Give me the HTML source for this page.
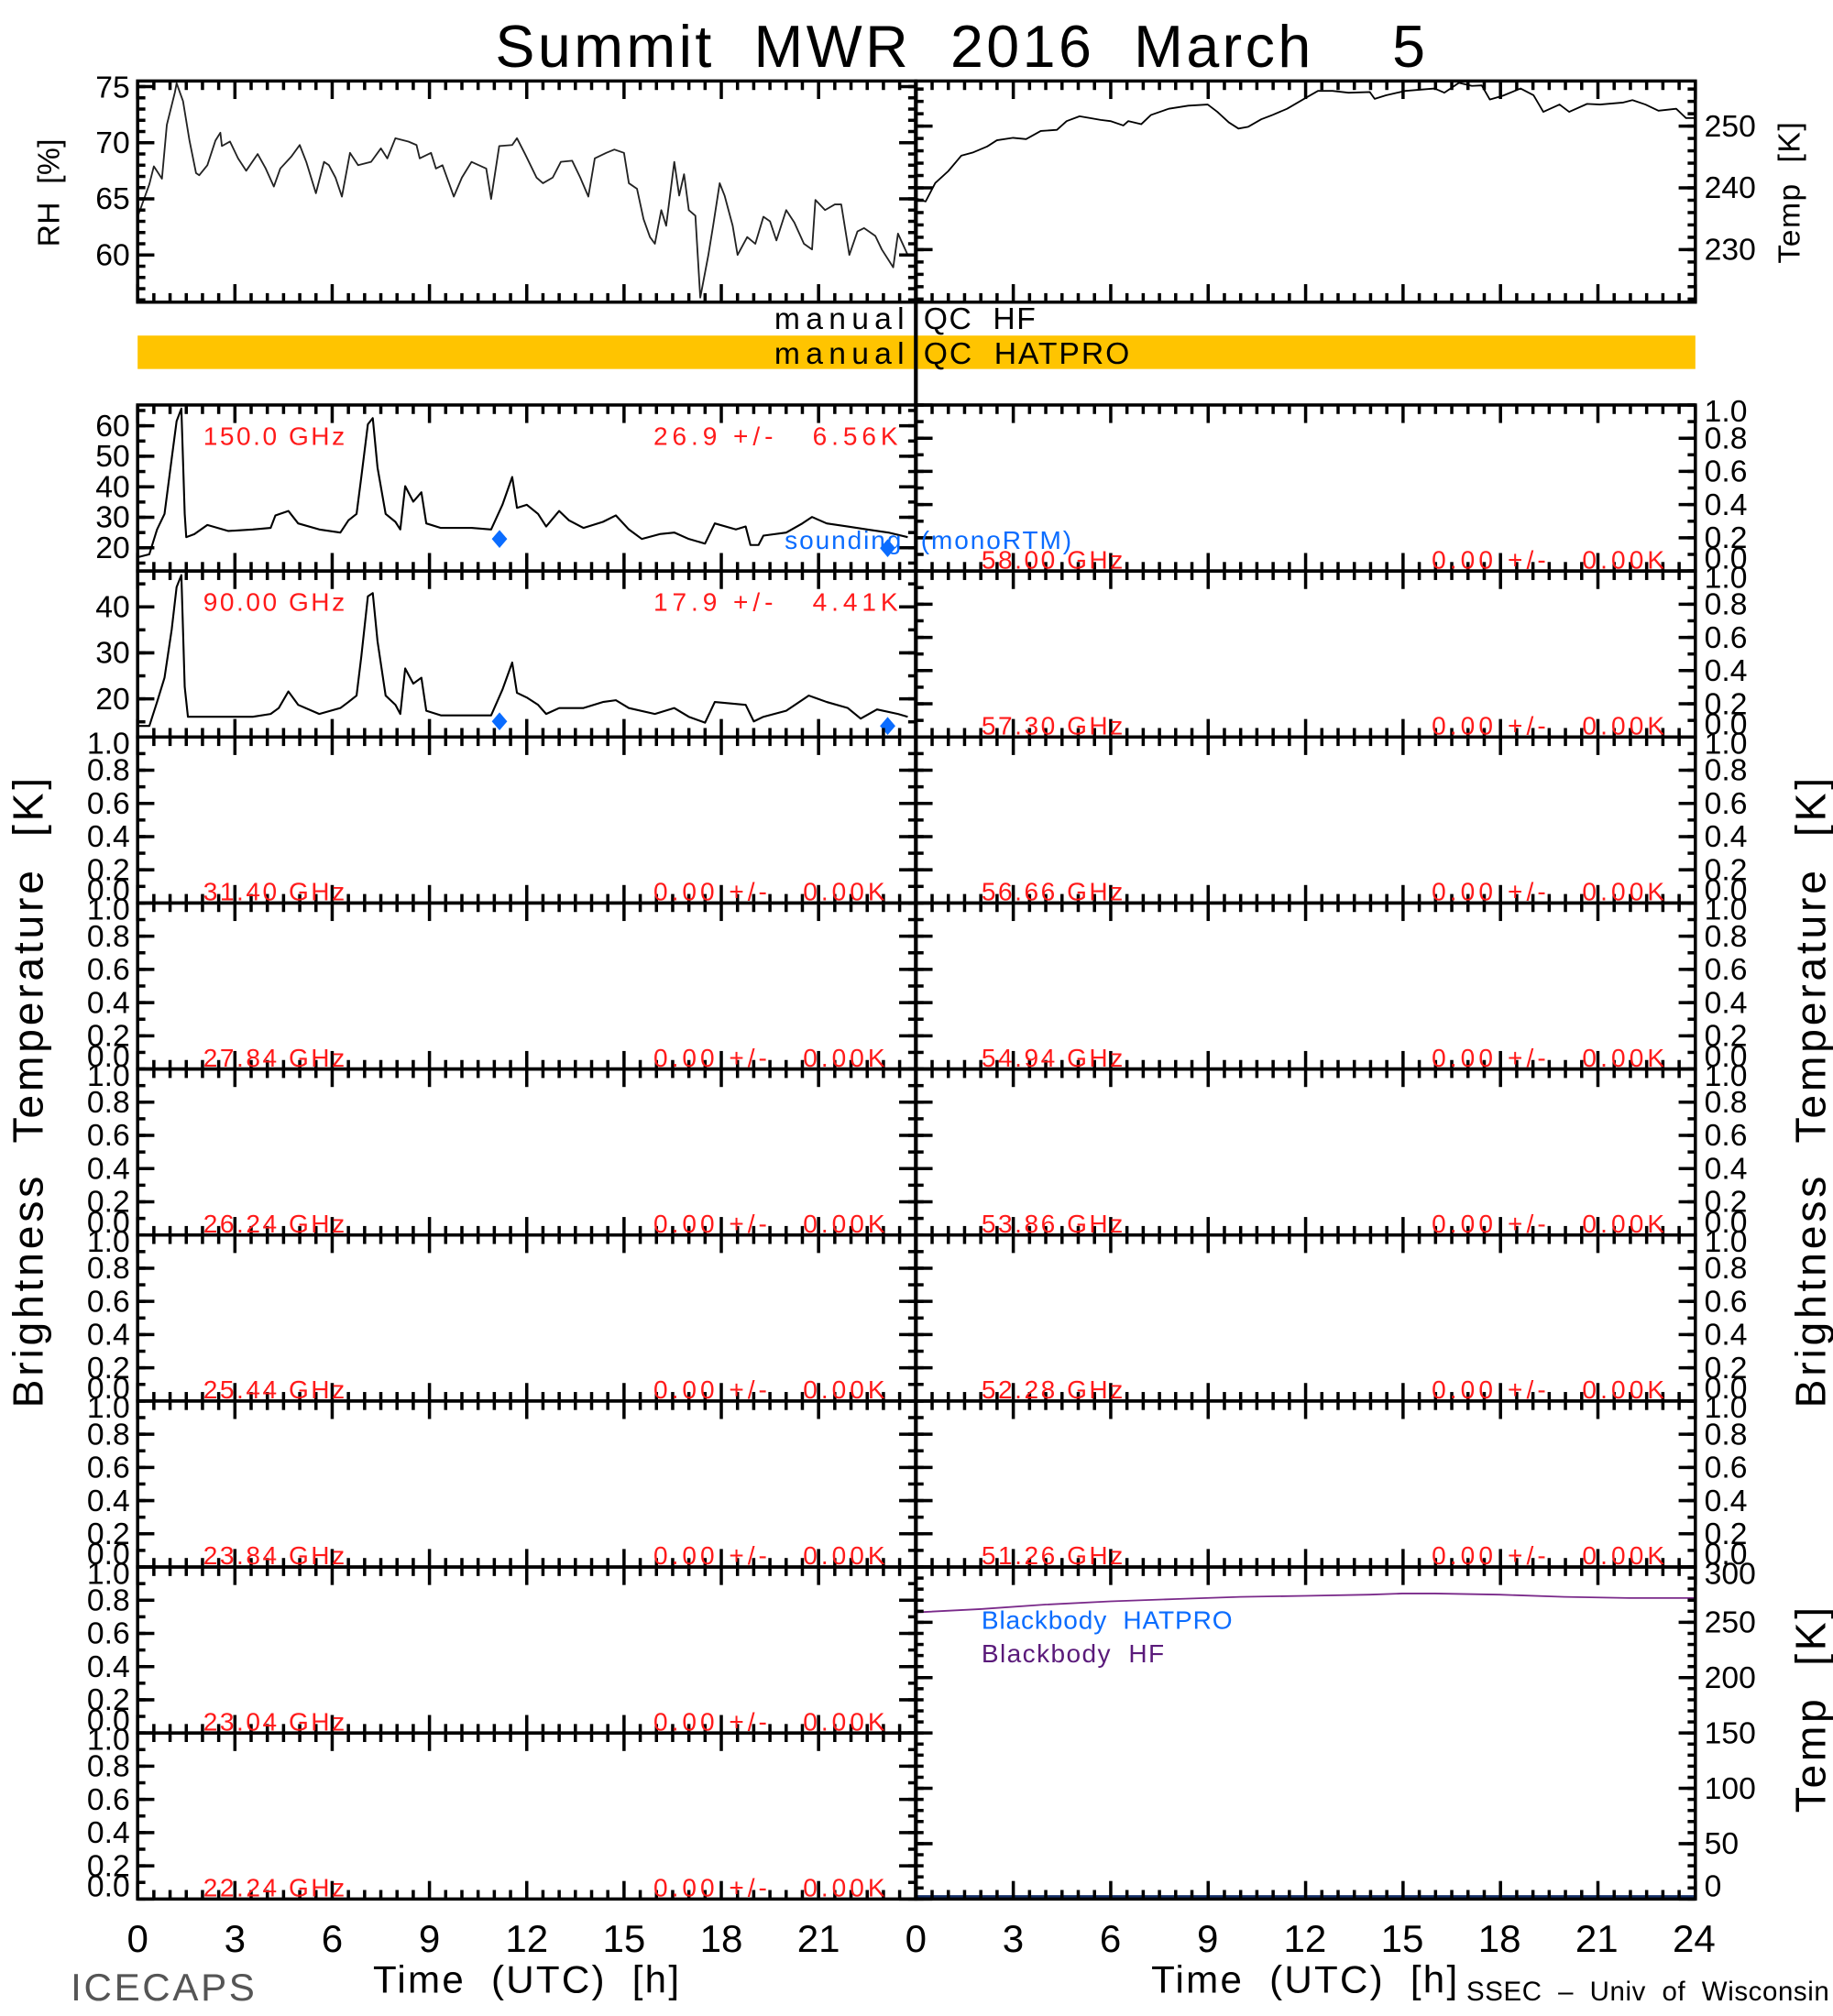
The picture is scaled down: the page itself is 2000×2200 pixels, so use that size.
<!DOCTYPE html>
<html><head><meta charset="utf-8">
<style>
html,body{margin:0;padding:0;background:#fff;}
svg{display:block;}
text{font-family:"Liberation Sans",sans-serif;white-space:pre;}
</style></head>
<body>
<svg id="chart" xmlns="http://www.w3.org/2000/svg" width="2000" height="2200" viewBox="0 0 1425 1568" preserveAspectRatio="none">
<rect x="0" y="0" width="1425" height="1568" fill="#fff"/>
<text x="385" y="52" font-size="46" textLength="723" lengthAdjust="spacing" fill="#000">Summit  MWR  2016  March    5</text>
<rect x="107" y="261" width="1211" height="26" fill="#FFC400"/>
<text x="602" y="256" font-size="24" textLength="101" lengthAdjust="spacing">manual</text>
<text x="718" y="256" font-size="24" textLength="87" lengthAdjust="spacing">QC  HF</text>
<text x="602" y="283" font-size="24" textLength="101" lengthAdjust="spacing">manual</text>
<text x="718" y="283" font-size="24" textLength="160" lengthAdjust="spacing">QC  HATPRO</text>
<g id="g"></g>
</svg>
<script>
// ---- data ----
const rhTimes=[0,0.36,0.5,0.75,0.9,1.15,1.2,1.4,1.6,1.8,1.9,2.15,2.4,2.55,2.6,2.85,3.1,3.35,3.7,3.95,4.2,4.4,4.75,5,5.2,5.5,5.75,5.9,6.1,6.3,6.55,6.8,7.2,7.5,7.7,7.95,8.35,8.6,8.7,9.05,9.2,9.4,9.75,10,10.3,10.75,10.9,11.15,11.55,11.7,11.95,12.3,12.5,12.8,13.05,13.4,13.65,13.9,14.1,14.45,14.7,15,15.15,15.4,15.6,15.8,15.95,16.15,16.3,16.55,16.7,16.85,17,17.2,17.35,17.6,17.75,17.95,18.1,18.35,18.5,18.8,19.05,19.3,19.5,19.7,20,20.25,20.55,20.8,20.9,21.2,21.5,21.7,21.95,22.2,22.4,22.75,22.95,23.3,23.45,23.75];
const rhValues=[63.4,66.3,67.9,66.8,71.6,74.5,75.3,73.7,70.2,67.3,67.1,68,70.2,70.9,69.7,70.1,68.6,67.5,69,67.7,66.1,67.7,68.8,69.8,68.3,65.5,68.3,68,66.9,65.2,69.1,68,68.3,69.5,68.6,70.4,70.1,69.8,68.6,69.1,67.7,68,65.2,66.9,68.3,67.7,65,69.7,69.8,70.4,69,66.9,66.4,66.9,68.3,68.4,66.9,65.2,68.6,69.1,69.4,69.1,66.4,65.9,63.2,61.6,61,64,62.6,68.3,65.3,67.2,64,63.5,56.2,60,62.6,66.4,65.3,62.6,60,61.6,61,63.4,63,61.3,64,62.9,61,60.5,64.9,64,64.5,64.5,60,62.1,62.4,61.7,60.5,58.9,61.9,60];
const tempTimes=[0,0.3,0.6,1,1.4,1.75,2.2,2.5,3,3.4,3.85,4.35,4.65,5.05,5.7,6,6.4,6.55,6.95,7.25,7.8,8.4,9,9.3,9.65,9.95,10.25,10.65,11,11.45,12,12.4,12.85,13.35,14,14.15,14.5,15.1,16,16.3,16.75,17.15,17.45,17.7,18.1,18.65,19.05,19.35,19.85,20.15,20.7,21.1,21.8,22.1,22.5,22.9,23.45,23.75,24];
const tempValues=[238.3,237.8,240.8,242.7,245.2,245.7,246.7,247.7,248.1,247.9,249.2,249.4,250.8,251.6,251,250.8,250.1,250.8,250.3,251.8,252.8,253.3,253.5,252.3,250.6,249.6,249.9,251.1,251.8,252.8,254.5,255.7,255.7,255.4,255.5,254.4,255,255.7,256.1,255.4,257,256.5,256.6,254.3,254.9,256.1,255,252.3,253.5,252.3,253.6,253.5,253.8,254.2,253.5,252.5,252.8,251.3,251.3];
const tb150Times=[0,0.36,0.6,0.83,1.05,1.2,1.35,1.45,1.5,1.75,2.15,2.8,3.55,4.1,4.25,4.65,4.95,5.6,6.25,6.5,6.75,6.9,7.1,7.25,7.4,7.65,7.95,8.1,8.25,8.5,8.75,8.9,9.35,10.3,10.9,11.25,11.55,11.7,12,12.35,12.6,13,13.3,13.75,14.35,14.75,15.15,15.55,16.1,16.55,17,17.5,17.8,18.45,18.75,18.9,19.15,19.3,20,20.5,20.8,21.25,21.9,22.5,23.15,23.75];
const tb150Values=[16.9,17.9,26,31.1,49.3,61.5,65.6,31.1,23.5,24.5,27.5,25.5,26,26.5,30.6,32.1,28,26,25,29,31.1,43.2,60.5,62.5,46.3,31.1,28.5,26,40.2,35.1,38.2,28,26.5,26.5,26,34.1,43.2,33.1,34.1,31.1,27,32.1,29,26.5,28.5,30.6,26,22.9,24.5,25,22.9,21.4,28,26,27,20.9,20.9,24,25,28,30.1,28,27,26,25,23.5];
const tb90Times=[0,0.36,0.6,0.83,1.05,1.2,1.35,1.45,1.55,2.15,2.8,3.55,4.1,4.35,4.65,4.95,5.6,6.25,6.5,6.75,6.9,7.1,7.25,7.4,7.65,7.95,8.1,8.25,8.5,8.75,8.9,9.35,10.3,10.9,11.25,11.55,11.7,12,12.35,12.6,13,13.75,14.35,14.75,15.15,15.95,16.55,17,17.5,17.8,18.75,19,19.3,20,20.7,21.25,21.9,22.3,22.8,23.45,23.75];
const tb90Values=[14.1,14.1,19.3,24.6,35.1,44.3,46.9,22.6,16.1,16.1,16.1,16.1,16.7,18,21.6,18.7,16.7,18,19.3,20.7,29.2,42.3,43,32.5,20.7,18.7,16.7,26.6,23.3,24.6,17.4,16.4,16.4,16.4,22,27.9,21.3,20.3,18.7,16.7,18,18,19.3,19.7,18,16.7,18,16.1,14.8,19.3,18.7,15.1,16.1,17.4,20.7,19.3,18,15.7,17.7,16.7,16.1];
const soundTimes=[11.16,23.13];
const sound150=[22.9,19.9];
const sound90=[15.1,14.1];
const bbTimes=[0,2,4,6,8,10,12,14,15,16,18,20,22,24];
const bbValues=[259,262,266,269,271,273,274,275,276,276,275,273,272,272];
const leftFreqs=["150.0 GHz","90.00 GHz","31.40 GHz","27.84 GHz","26.24 GHz","25.44 GHz","23.84 GHz","23.04 GHz","22.24 GHz"];
const leftStats=["26.9 +/-   6.56K","17.9 +/-   4.41K","0.00 +/-   0.00K","0.00 +/-   0.00K","0.00 +/-   0.00K","0.00 +/-   0.00K","0.00 +/-   0.00K","0.00 +/-   0.00K","0.00 +/-   0.00K"];
const rightFreqs=["58.00 GHz","57.30 GHz","56.66 GHz","54.94 GHz","53.86 GHz","52.28 GHz","51.26 GHz"];
const rhTicks=[60,65,70,75];
const tempTicks=[230,240,250];
const tb150Ticks=[20,30,40,50,60];
const tb90Ticks=[20,30,40];
const unitTicks=[0,0.2,0.4,0.6,0.8,1.0];
const bbTicks=[0,50,100,150,200,250,300];
const hourTicksL=[0,3,6,9,12,15,18,21];
const hourTicksR=[0,3,6,9,12,15,18,21,24];

// ---- layout ----
const NS="http://www.w3.org/2000/svg";
const G=document.getElementById('g');
const XL=107, XM=712, XR=1318, W=605;
function xAt(t,side){return (side?XM:XL)+t/24*W;}
function yScale(v,lo,hi,top,bot){return bot-(v-lo)/(hi-lo)*(bot-top);}
function el(tag,attrs){const e=document.createElementNS(NS,tag);for(const k in attrs)e.setAttribute(k,attrs[k]);G.appendChild(e);return e;}
function txt(s,x,y,size,anchor,fill,len){const a={x:x,y:y,'font-size':size,'text-anchor':anchor||'start',fill:fill||'#000'};if(len){a.textLength=len;a.lengthAdjust='spacing';}const e=el('text',a);e.textContent=s;return e;}

function panelFrame(x0,x1,top,bot,name){
  const r=el('rect',{x:x0,y:top,width:x1-x0,height:bot-top,fill:'none',stroke:'#000','stroke-width':2.5});
  
  
  for(let t=0;t<=24.001;t+=0.5){
    const x=x0+t/24*(x1-x0);
    const L=(Math.abs(t/3-Math.round(t/3))<1e-6)?14:7;
    const a=el('line',{x1:x,y1:bot,x2:x,y2:bot-L,stroke:'#000','stroke-width':2.5});
    
    
    const b=el('line',{x1:x,y1:top,x2:x,y2:top+L,stroke:'#000','stroke-width':2.5});
    
    
  }
}
function yTicks(ticks,lo,hi,top,bot,x0,x1,labelSide,name,minorStep){
  if(minorStep){
    for(let v=Math.ceil(lo/minorStep)*minorStep;v<=hi+1e-9;v+=minorStep){
      const y=yScale(v,lo,hi,top,bot);
      const a=el('line',{x1:x0,y1:y,x2:x0+6,y2:y,stroke:'#000','stroke-width':2.5});
      
      
      const b=el('line',{x1:x1,y1:y,x2:x1-6,y2:y,stroke:'#000','stroke-width':2.5});
      
      
    }
  }
  const unit=ticks[ticks.length-1]<=1;
  ticks.forEach(v=>{
    const y=yScale(v,lo,hi,top,bot);
    const a=el('line',{x1:x0,y1:y,x2:x0+13,y2:y,stroke:'#000','stroke-width':2.5});
    
    
    const b=el('line',{x1:x1,y1:y,x2:x1-13,y2:y,stroke:'#000','stroke-width':2.5});
    
    
    let ly=Math.min(Math.max(y,top+5),bot-10)+8;
    const lab=unit?v.toFixed(1):String(v);
    const t=labelSide==='left'?txt(lab,x0-6,ly,24,'end'):txt(lab,x1+7,ly,24,'start');
    
    
  });
}
function series(times,vals,lo,hi,top,bot,side,color,sw,name){
  const pts=times.map((t,i)=>xAt(t,side).toFixed(1)+','+yScale(vals[i],lo,hi,top,bot).toFixed(1)).join(' ');
  const p=el('polyline',{points:pts,fill:'none',stroke:color,'stroke-width':sw,'stroke-linejoin':'round'});
  
  
}
function diamonds(times,vals,lo,hi,top,bot,name){
  times.forEach((t,i)=>{
    const x=xAt(t,0),y=yScale(vals[i],lo,hi,top,bot);
    const d=el('polygon',{points:`${x},${y-7} ${x+6},${y} ${x},${y+7} ${x-6},${y}`,fill:'#0a6cff'});
    
    
  });
}

// ---- top panels ----
const rhLo=55.8,rhHi=75.5,tLo=221.5,tHi=257.3;
series(rhTimes,rhValues,rhLo,rhHi,63,235,0,'#222',1.3,'rh-line');
series(tempTimes,tempValues,tLo,tHi,63,235,1,'#000',1.3,'temp-line');
panelFrame(XL,XM,63,235,'rh-panel');
panelFrame(XM,XR,63,235,'temp-panel');
yTicks(rhTicks,rhLo,rhHi,63,235,XL,XM,'left','rh-axis',1);
yTicks(tempTicks,tLo,tHi,63,235,XM,XR,'right','temp-axis',2);

// ---- channel rows ----
const rowTop=315, rowH=(1477-315)/9;
for(let i=0;i<9;i++){
  const top=rowTop+i*rowH, bot=top+rowH;
  let lo=0,hi=1,ticks=unitTicks,minor=0.1;
  if(i===0){lo=12.4;hi=66.8;ticks=tb150Ticks;minor=5;}
  if(i===1){lo=11.7;hi=47.8;ticks=tb90Ticks;minor=5;}
  if(i===0){series(tb150Times,tb150Values,lo,hi,top,bot,0,'#000',1.5,'tb-150ghz-line');diamonds(soundTimes,sound150,lo,hi,top,bot,'sounding-150ghz-marker');}
  if(i===1){series(tb90Times,tb90Values,lo,hi,top,bot,0,'#000',1.5,'tb-90ghz-line');diamonds(soundTimes,sound90,lo,hi,top,bot,'sounding-90ghz-marker');}
  panelFrame(XL,XM,top,bot,'left-row-'+i);
  yTicks(ticks,lo,hi,top,bot,XL,XM,'left','left-row-'+i,minor);
  const ly=i<2?top+31:bot-2;
  const f=txt(leftFreqs[i],158,ly,20,'start','#ff1a1a',110);
  
  
  const sx=i<2?508:508;
  const s=txt(leftStats[i],sx,ly,20,'start','#ff1a1a',i<2?190:180);
  
  
  if(i<7){
    panelFrame(XM,XR,top,bot,'right-row-'+i);
    yTicks(unitTicks,0,1,top,bot,XM,XR,'right','right-row-'+i,0.1);
    const f2=txt(rightFreqs[i],763,bot-2,20,'start','#ff1a1a',110);
    
    
    const s2=txt('0.00 +/-   0.00K',1113,bot-2,20,'start','#ff1a1a',181);
    
    
  }
}
// sounding legend
const snd=txt('sounding  (monoRTM)',610,427,20,'start','#0a6cff',223);



// ---- blackbody panel ----
const bbTop=rowTop+7*rowH, bbBot=1477;
series(bbTimes,bbValues,0,300,bbTop,bbBot,1,'#7a2a8a',1.3,'blackbody-hf-line');
const bl=el('line',{x1:XM,y1:bbBot-2,x2:XR,y2:bbBot-2,stroke:'#14306a','stroke-width':2});


panelFrame(XM,XR,bbTop,bbBot,'blackbody-panel');
yTicks(bbTicks,0,300,bbTop,bbBot,XM,XR,'right','blackbody-axis',10);
const l1=txt('Blackbody  HATPRO',763,1267,20,'start','#0a6cff',195);


const l2=txt('Blackbody  HF',763,1293,20,'start','#5a1a7a',142);



// divider
const dv=el('line',{x1:XM,y1:63,x2:XM,y2:1477,stroke:'#000','stroke-width':3});



// ---- x tick labels ----
hourTicksL.forEach(h=>{const t=txt(String(h),xAt(h,0),1518,30,'middle');

});
hourTicksR.forEach(h=>{const t=txt(String(h),xAt(h,1),1518,30,'middle');

});

function rot(s,x,y,size,len,name){const e=el('text',{x:0,y:0,'font-size':size,'text-anchor':'middle',textLength:len,lengthAdjust:'spacing',transform:`translate(${x},${y}) rotate(-90)`});e.textContent=s;

return e;}
rot('RH  [%]',46,150,24,84,'rh-axis-title');
rot('Temp  [K]',1399,150,24,110,'temp-axis-title');
rot('Brightness  Temperature  [K]',33,850,33,490,'left-y-axis-title');
rot('Brightness  Temperature  [K]',1419,850,33,490,'right-y-axis-title');
rot('Temp  [K]',1419,1330,33,160,'blackbody-y-axis-title');
const xt1=txt('Time  (UTC)  [h]',290,1550,30,'start','#000',238);


const xt2=txt('Time  (UTC)  [h]',895,1550,30,'start','#000',238);


const ic=txt('ICECAPS',55,1556,30,'start','#555',143);


const ss=txt('SSEC  –  Univ  of  Wisconsin',1140,1556,21,'start','#000',282);


</script>
</body></html>
